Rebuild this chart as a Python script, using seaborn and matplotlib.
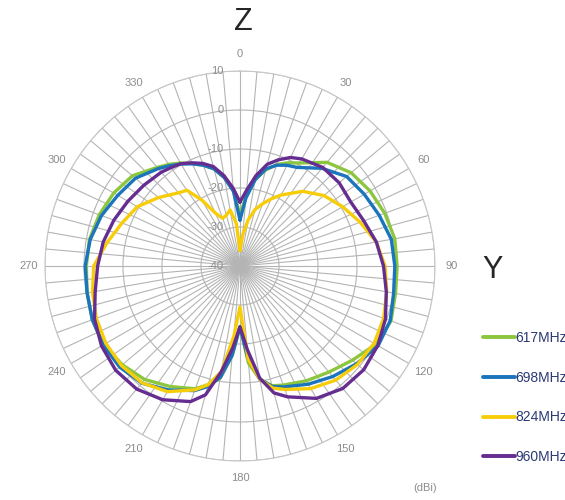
import numpy as np
import pandas as pd
import matplotlib
matplotlib.use("Agg")
import matplotlib.pyplot as plt
from matplotlib.lines import Line2D
import seaborn as sns

# angles in degrees (0 = Z axis at top, clockwise)
angles = [0, 5, 10, 15, 20, 25, 30, 40, 50, 60, 70, 80, 90, 100, 110, 120, 130, 140,
          150, 160, 165, 170, 175, 180, 185, 190, 195, 200, 210, 220, 230, 240, 250,
          260, 270, 280, 290, 300, 310, 320, 325, 330, 335, 340, 345, 350, 355, 360]

gain_617 = [-27.0, -22.0, -17.5, -14.5, -12.3, -10.8, -9.5, -5.3, -2.8, -1.5, -0.5, 0.3,
            0.3, 0.5, 1.2, 0.2, -2.4, -4.5, -6.0, -7.5, -8.2, -10.5, -15.0, -24.5, -17.0,
            -10.8, -8.5, -6.5, -4.3, -2.0, -0.6, 0.3, 0.3, -0.2, -0.6, -0.8, -1.6, -2.6,
            -4.0, -7.0, -8.2, -9.5, -11.0, -12.5, -14.2, -17.0, -20.5, -27.0]

gain_698 = [-28.2, -22.5, -17.5, -14.2, -12.5, -11.5, -10.8, -7.3, -4.3, -3.2, -2.0, -0.6,
            -0.3, 0.0, 1.0, 0.9, -1.0, -3.0, -5.0, -7.0, -8.0, -10.5, -16.0, -24.4, -17.0,
            -11.0, -8.0, -6.0, -3.3, -0.8, 0.3, 0.5, 0.3, -0.2, -0.3, -1.0, -2.2, -3.8,
            -5.0, -7.4, -8.6, -9.8, -11.1, -12.5, -14.2, -17.0, -20.8, -28.2]

gain_824 = [-36.0, -32.0, -28.0, -25.0, -23.0, -21.0, -19.0, -15.0, -11.9, -9.6, -7.2, -4.5,
            -2.8, -1.8, -0.8, -0.3, -0.7, -1.8, -3.7, -6.3, -7.6, -10.5, -16.0, -29.5, -22.0,
            -12.5, -8.5, -6.2, -2.8, -0.9, -0.3, -0.3, -0.8, -1.6, -2.5, -5.4, -7.8, -9.6,
            -12.7, -15.5, -16.3, -20.5, -25.0, -27.0, -26.5, -25.4, -29.0, -36.0]

gain_960 = [-23.6, -20.5, -16.5, -13.0, -11.0, -9.3, -8.3, -7.0, -6.8, -7.2, -6.2, -4.5,
            -3.2, -1.9, -0.3, 0.8, 1.4, 1.0, -0.8, -4.3, -6.3, -10.8, -18.5, -24.4, -19.0,
            -12.5, -5.8, -3.0, -0.4, 1.2, 1.6, 1.0, -0.3, -2.3, -3.5, -4.4, -5.6, -6.8,
            -7.8, -8.6, -9.2, -9.7, -10.8, -12.0, -13.6, -16.5, -20.0, -23.6]

bands = ["617MHz", "698MHz", "824MHz", "960MHz"]
colors = ["#8cc63f", "#1b75bc", "#f7cd0a", "#662d91"]
r_ticks = [-40, -30, -20, -10, 0, 10]

frames = []
for band, g in zip(bands, [gain_617, gain_698, gain_824, gain_960]):
    frames.append(pd.DataFrame({"angle": angles, "gain": g, "band": band}))
df = pd.concat(frames, ignore_index=True)
df["theta"] = np.deg2rad(df["angle"])

sns.set_style("white")
plt.rcParams["font.family"] = ["Liberation Sans", "DejaVu Sans"]

fig = plt.figure(figsize=(5.65, 5.0), dpi=100)
ax = fig.add_axes([0.0796, 0.078, 0.6903, 0.78], projection="polar")
ax.set_theta_zero_location("N")
ax.set_theta_direction(-1)

sns.lineplot(data=df, x="theta", y="gain", hue="band", palette=colors,
             estimator=None, sort=False, linewidth=2.4, legend=False, ax=ax)

ax.set_ylim(-40, 10)
ax.set_yticks(r_ticks[1:])
ax.set_yticklabels([])
spokes = np.arange(0, 360, 5)
ax.set_xticks(np.deg2rad(spokes))
ax.set_xticklabels([str(a) if a % 30 == 0 else "" for a in spokes],
                   fontsize=8, color="#8c8c8c")
ax.tick_params(axis="x", pad=1.5)
ax.grid(True, color="#b4b4b4", linewidth=0.8)
ax.spines["polar"].set_color("#c8c8c8")
ax.set_xlabel("")
ax.set_ylabel("")

# radial labels just left of the 0 degree line
for r in r_ticks:
    ax.annotate(str(r), xy=(0, r), xytext=(-12, 0), textcoords="offset points",
                ha="right", va="center", fontsize=8, color="#8c8c8c")

fig.text(243 / 565, 1 - 22 / 500, "Z", fontsize=22, ha="center", va="center")
fig.text(493 / 565, 1 - 270 / 500, "Y", fontsize=22, ha="center", va="center")
fig.text(425 / 565, 1 - 488 / 500, "(dBi)", fontsize=8, color="#8c8c8c",
         ha="center", va="center")

# legend sits at the right edge, labels run off the figure as in the original
handles = [Line2D([], [], color=c, linewidth=2.8) for c in colors]
leg = fig.legend(handles, bands, loc="upper left",
                 bbox_to_anchor=(483 / 565, 1 - 331 / 500), frameon=False,
                 fontsize=10, handlelength=2.3, handletextpad=0.05,
                 labelspacing=1.85, borderpad=0, borderaxespad=0)
for t in leg.get_texts():
    t.set_color("#2b3a73")

fig.savefig("out.png", dpi=100)
